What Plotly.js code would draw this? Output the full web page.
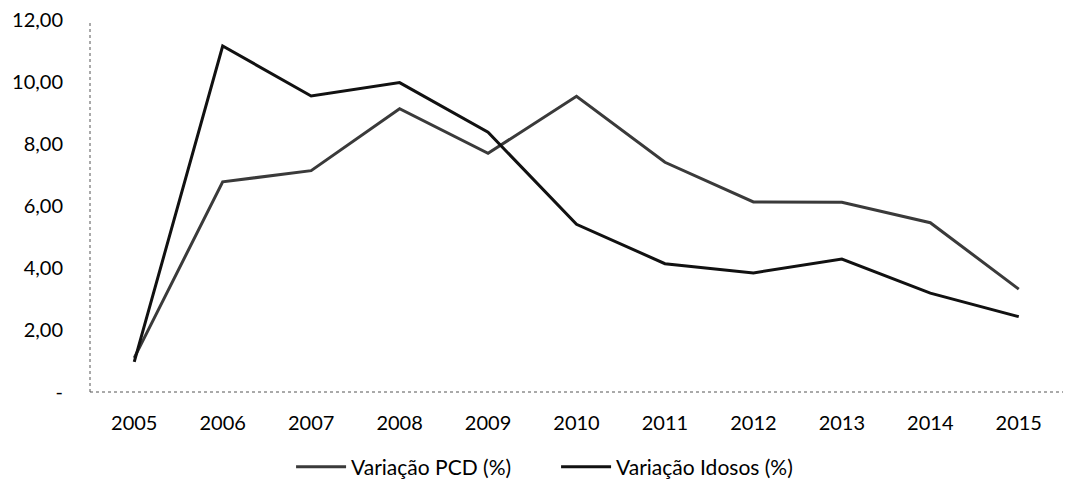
<!DOCTYPE html>
<html>
<head>
<meta charset="utf-8">
<script src="https://cdn.plot.ly/plotly-3.0.1.min.js"></script>
<style>html,body{margin:0;padding:0;background:#fff;}#chart{width:1077px;height:484px;}</style>
</head>
<body>
<div id="chart"></div>
<script>
var years = ['2005','2006','2007','2008','2009','2010','2011','2012','2013','2014','2015'];
var variacaoPCD = [1.10, 6.78, 7.14, 9.14, 7.70, 9.54, 7.41, 6.13, 6.12, 5.46, 3.32];
var variacaoIdosos = [0.97, 11.16, 9.55, 9.98, 8.38, 5.41, 4.14, 3.84, 4.29, 3.19, 2.43];
var yTickVals = [0, 2, 4, 6, 8, 10, 12];
var yTickText = ['-', '2,00', '4,00', '6,00', '8,00', '10,00', '12,00'];

var font = {family: 'Lato, "Open Sans", sans-serif', size: 20, color: '#000'};
var legendFont = {family: 'Lato, "Open Sans", sans-serif', size: 21, color: '#000'};

var traces = [
  {x: years, y: variacaoPCD, type: 'scatter', mode: 'lines', name: 'Variação PCD (%)',
   line: {color: '#3a3a3a', width: 3}},
  {x: years, y: variacaoIdosos, type: 'scatter', mode: 'lines', name: 'Variação Idosos (%)',
   line: {color: '#111111', width: 3}}
];

var layout = {
  width: 1077, height: 484,
  margin: {l: 90, r: 14, t: 20, b: 92, autoexpand: false},
  paper_bgcolor: '#fff', plot_bgcolor: '#fff',
  font: font,
  showlegend: true,
  legend: {orientation: 'h', x: 0.479, xanchor: 'center', yref: 'container', y: 0.035, yanchor: 'middle',
           font: legendFont, traceorder: 'normal', itemwidth: 50, entrywidth: 200, entrywidthmode: 'pixels'},
  xaxis: {type: 'category', range: [-0.5, 10.5], showgrid: false, zeroline: false,
          showline: false, ticks: '', ticklabelstandoff: 17, tickfont: font, fixedrange: true},
  yaxis: {range: [0, 12], tickvals: yTickVals, ticktext: yTickText, showgrid: false,
          zeroline: false, showline: false, ticks: '', ticklabelstandoff: 26, tickfont: font,
          fixedrange: true},
  shapes: [
    {type: 'line', xref: 'paper', yref: 'paper', x0: 0, x1: 0, y0: 0, y1: 1,
     line: {color: '#555', width: 1, dash: 'dot'}},
    {type: 'line', xref: 'paper', yref: 'paper', x0: 0, x1: 1, y0: 0, y1: 0,
     line: {color: '#555', width: 1, dash: 'dot'}}
  ]
};

Plotly.newPlot('chart', traces, layout, {displayModeBar: false, staticPlot: true});
</script>
</body>
</html>
